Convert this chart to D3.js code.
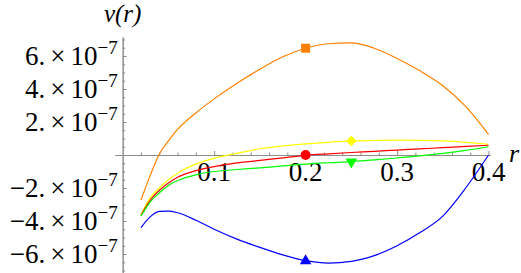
<!DOCTYPE html>
<html>
<head>
<meta charset="UTF-8">
<script src="https://cdn.jsdelivr.net/npm/d3@7"></script>
</head>
<body style="margin:0">
<svg id="chart" width="521" height="273"></svg>
<script>
// sample points in r, values in units of 1e-7
const rValues = [0.02, 0.03, 0.04, 0.05, 0.06, 0.08, 0.10, 0.125, 0.15, 0.175, 0.20, 0.225, 0.25, 0.275, 0.30, 0.325, 0.35, 0.375, 0.40];
const orangeVals = [-2.73, -1.25, 0.05, 0.85, 1.55, 2.55, 3.4, 4.35, 5.2, 5.95, 6.47, 6.74, 6.79, 6.47, 5.85, 5.1, 4.2, 2.95, 1.25];
const yellowVals = [-3.6, -2.6, -2.0, -1.5, -1.1, -0.55, -0.2, 0.1, 0.38, 0.55, 0.67, 0.77, 0.85, 0.88, 0.9, 0.89, 0.85, 0.77, 0.65];
const redVals    = [-3.65, -2.75, -2.15, -1.7, -1.35, -0.95, -0.7, -0.48, -0.33, -0.17, -0.02, 0.07, 0.15, 0.22, 0.3, 0.37, 0.45, 0.52, 0.59];
const greenVals  = [-3.7, -2.85, -2.3, -1.85, -1.55, -1.2, -1.0, -0.88, -0.78, -0.66, -0.55, -0.47, -0.4, -0.3, -0.18, -0.05, 0.1, 0.28, 0.5];
const blueVals   = [-4.4, -3.75, -3.42, -3.4, -3.5, -3.95, -4.5, -5.1, -5.6, -6.05, -6.4, -6.55, -6.45, -6.1, -5.5, -4.7, -3.7, -2.0, 0.0];

const seriesColors = ['#ff8000', '#ffff00', '#ff0000', '#00ff00', '#0000ff'];
const markerR   = [0.2, 0.25, 0.2, 0.25, 0.2];
const markerV   = [6.47, 0.85, 0, -0.42, -6.42];
const markerShapes = ['square', 'diamond', 'circle', 'triDown', 'triUp'];

const xMajor = [0.1, 0.2, 0.3, 0.4];
const xMajorLabels = ['0.1', '0.2', '0.3', '0.4'];
const yMajor = [-6, -4, -2, 2, 4, 6];
const yMajorMant = ['\u22126.', '\u22124.', '\u22122.', '2.', '4.', '6.'];

const serif = "'Liberation Serif'";
const svg = d3.select('#chart');

const x = d3.scaleLinear().domain([-0.0084, 0.4016]).range([115, 490]);
const y = d3.scaleLinear().domain([-7.15, 7.15]).range([273, 37]);

const axisColor = '#8c8c8c';

// x axis: minor ticks then major ticks
const xMinor = d3.range(0.02, 0.401, 0.02).filter(v => Math.abs(v * 10 - Math.round(v * 10)) > 1e-6);
const gx = svg.append('g').attr('transform', 'translate(0,' + y(0) + ')');
gx.call(d3.axisBottom(x).tickValues(xMinor).tickSizeInner(-2.5).tickSizeOuter(0).tickFormat(''));
gx.append('g').call(d3.axisBottom(x).tickValues(xMajor).tickSizeInner(-4).tickSizeOuter(0).tickFormat(''));
gx.selectAll('path, line').attr('stroke', axisColor).attr('stroke-width', 1);

// y axis
const yMinor = d3.range(-7, 7.01, 0.5).filter(v => Math.abs(v / 2 - Math.round(v / 2)) > 1e-6);
const gy = svg.append('g').attr('transform', 'translate(' + x(0) + ',0)');
gy.call(d3.axisRight(y).tickValues(yMinor).tickSizeInner(2.5).tickSizeOuter(0).tickFormat(''));
gy.append('g').call(d3.axisRight(y).tickValues(yMajor).tickSizeInner(4).tickSizeOuter(0).tickFormat(''));
gy.selectAll('path, line').attr('stroke', axisColor).attr('stroke-width', 1);

// tick labels
svg.selectAll('text.xl')
  .data(xMajor)
  .enter().append('text')
  .attr('class', 'xl')
  .attr('x', d => x(d))
  .attr('y', y(0) + 26)
  .attr('text-anchor', 'middle')
  .style('font-family', serif)
  .style('font-size', '27px')
  .text((d, i) => xMajorLabels[i]);

const yl = svg.selectAll('text.yl')
  .data(yMajor)
  .enter().append('text')
  .attr('class', 'yl')
  .attr('x', x(0) - 5)
  .attr('y', d => y(d) + 9)
  .attr('text-anchor', 'end')
  .style('font-family', serif)
  .style('font-size', '27px');
yl.append('tspan').text((d, i) => yMajorMant[i]);
yl.append('tspan').attr('dx', 5).text('\u00d7');
yl.append('tspan').attr('dx', 5).text('10');
yl.append('tspan').attr('dy', -11).style('font-size', '19px').text('\u22127');

// axis titles
svg.append('text')
  .attr('x', x(0)).attr('y', 22)
  .attr('text-anchor', 'middle')
  .style('font-family', serif)
  .style('font-size', '25px')
  .style('font-style', 'italic')
  .text('v(r)');
svg.append('text')
  .attr('x', 509).attr('y', y(0) + 7)
  .style('font-family', serif)
  .style('font-size', '26px')
  .style('font-style', 'italic')
  .text('r');

// curves
const allSeries = [orangeVals, yellowVals, redVals, greenVals, blueVals];
const line = d3.line()
  .x((d, i) => x(rValues[i]))
  .y(d => y(d))
  .curve(d3.curveMonotoneX);

svg.append('g').selectAll('path')
  .data(allSeries)
  .enter().append('path')
  .attr('fill', 'none')
  .attr('stroke', (d, i) => seriesColors[i])
  .attr('stroke-width', 1.2)
  .attr('d', line);

// markers
function markerPath(shape) {
  if (shape === 'square') return d3.symbol(d3.symbolSquare, 81)();
  if (shape === 'diamond') return d3.symbol(d3.symbolSquare, 56)();
  if (shape === 'circle') return d3.symbol(d3.symbolCircle, 78)();
  return d3.symbol(d3.symbolTriangle, 58)();
}
svg.append('g').selectAll('path')
  .data(markerShapes)
  .enter().append('path')
  .attr('fill', (d, i) => seriesColors[i])
  .attr('transform', (d, i) => {
    let t = 'translate(' + x(markerR[i]) + ',' + y(markerV[i]) + ')';
    if (d === 'diamond') t += ' rotate(45)';
    if (d === 'triDown') t += ' rotate(180)';
    return t;
  })
  .attr('d', d => markerPath(d));
</script>
</body>
</html>
